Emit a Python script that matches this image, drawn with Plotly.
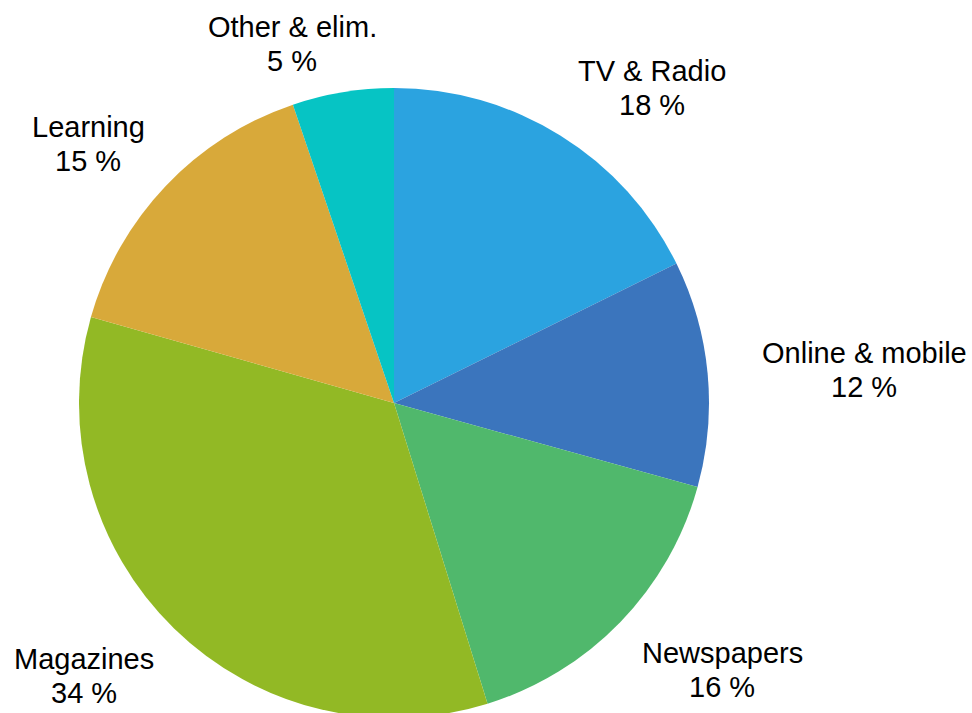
import plotly.graph_objects as go

segments = ["TV & Radio", "Online & mobile", "Newspapers", "Magazines", "Learning", "Other & elim."]
shares = [17.7, 11.6, 15.9, 34.2, 15.4, 5.2]
share_labels = ["18 %", "12 %", "16 %", "34 %", "15 %", "5 %"]
colors = ["#2BA3E0", "#3B75BD", "#50B86C", "#92B925", "#D8A93A", "#06C4C4"]

# label centres in pixels of the canvas
label_pos = [(652, 88), (864, 370), (722, 670), (84, 676), (88, 144), (292, 44)]

# figure is a little taller than the 713px window so the pie can run off the bottom
W, H = 972, 720
cx, cy, r = 394, 403, 315

fig = go.Figure(
    go.Pie(
        labels=segments,
        values=shares,
        marker=dict(colors=colors, line=dict(width=0)),
        sort=False,
        direction="clockwise",
        rotation=0,
        textinfo="none",
        hoverinfo="label",
        domain=dict(x=[(cx - r) / W, (cx + r) / W], y=[1 - (cy + r) / H, 1 - (cy - r) / H]),
    )
)

for name, lab, (px, py) in zip(segments, share_labels, label_pos):
    fig.add_annotation(
        x=px / W, y=1 - (py - 17) / H, xref="paper", yref="paper",
        text=name, showarrow=False, xanchor="center", yanchor="middle",
        font=dict(family="Liberation Sans, Arial", size=29, color="#000000"),
    )
    fig.add_annotation(
        x=px / W, y=1 - (py + 17) / H, xref="paper", yref="paper",
        text=lab, showarrow=False, xanchor="center", yanchor="middle",
        font=dict(family="Liberation Sans, Arial", size=29, color="#000000"),
    )

fig.update_layout(
    width=W,
    height=H,
    margin=dict(l=0, r=0, t=0, b=0),
    showlegend=False,
    paper_bgcolor="white",
    plot_bgcolor="white",
)

fig.write_html(
    "out.html",
    config={"displayModeBar": False},
    post_script="document.body.style.margin='0';document.body.style.overflow='hidden';",
)
